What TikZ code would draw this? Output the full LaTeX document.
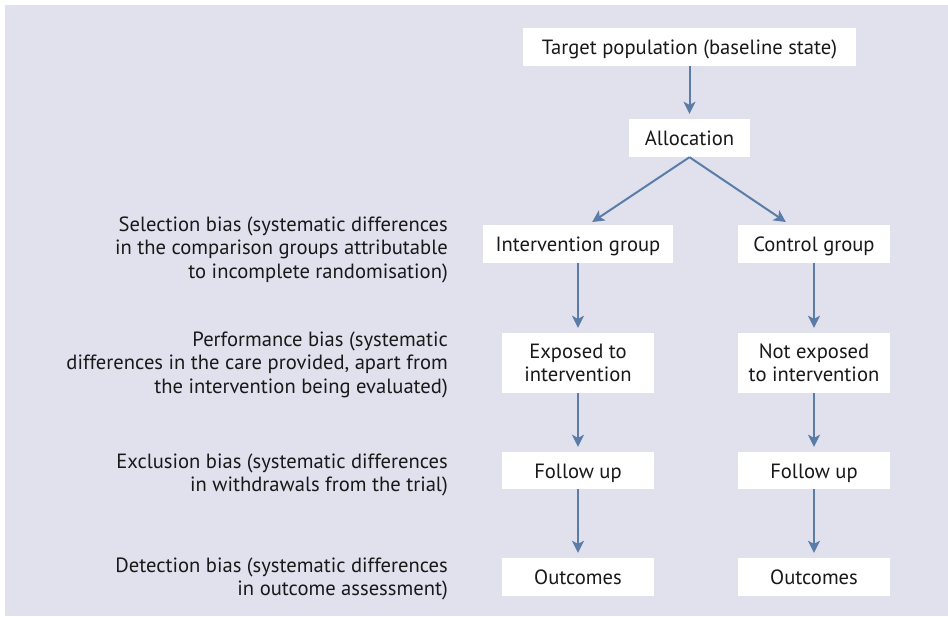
\documentclass[tikz,border=0pt]{standalone}
\usepackage{fontspec}
\setmainfont{PT Sans}
\usetikzlibrary{arrows.meta}
\definecolor{panel}{RGB}{225,225,238}
\definecolor{flow}{RGB}{90,124,166}
\definecolor{ink}{RGB}{25,25,25}

\begin{document}
\begin{tikzpicture}[x=1pt,y=-1pt,
  txt/.style={text=ink, font=\fontsize{20.6}{23.5}\selectfont},
  box/.style={txt, fill=white, inner sep=0pt, align=center, minimum width=152pt, minimum height=38pt},
  oneline/.style={text height=15pt, text depth=0pt},
  note/.style={txt, anchor=east, inner sep=0pt, align=right},
  link/.style={draw=flow, line width=2pt, -{Stealth[length=12pt,width=12pt,inset=3pt]}, shorten >=5pt}
]
\useasboundingbox (0,0) rectangle (948,616);
\fill[panel] (5,5) rectangle (948,616);

% flow boxes
\node[box, oneline, minimum width=333pt] (tp) at (689.5,47) {Target population (baseline state)};
\node[box, oneline, minimum width=121pt] (al) at (689.5,138) {Allocation};
\node[box, oneline, minimum width=190pt] (ig) at (578,244) {Intervention group};
\node[box, oneline] (cg) at (814,244) {Control group};
\node[box, minimum height=60pt] (ex) at (578,363) {Exposed to\\intervention};
\node[box, minimum height=60pt] (nx) at (814,363) {Not exposed\\to intervention};
\node[box, oneline, minimum height=37pt] (fl) at (578,470.5) {Follow up};
\node[box, oneline, minimum height=37pt] (fr) at (814,470.5) {Follow up};
\node[box, oneline] (ol) at (578,577) {Outcomes};
\node[box, oneline] (or) at (814,577) {Outcomes};

% bias descriptions
\node[note] (sb) at (448,249.5) {Selection bias (systematic differences\\in the comparison groups attributable\\to incomplete randomisation)};
\node[note] (pb) at (448,364.5) {Performance bias (systematic\\differences in the care provided, apart from\\the intervention being evaluated)};
\node[note] (eb) at (448,475) {Exclusion bias (systematic differences\\in withdrawals from the trial)};
\node[note] (db) at (448,579) {Detection bias (systematic differences\\in outcome assessment)};

% connectors
\draw[link] (tp.south) -- (al.north);
\draw[link] (al.south) -- ([xshift=10pt]ig.north);
\draw[link] (al.south) -- ([xshift=-24pt]cg.north);
\draw[link] (ig.south) -- (ex.north);
\draw[link] (cg.south) -- (nx.north);
\draw[link] (ex.south) -- (fl.north);
\draw[link] (nx.south) -- (fr.north);
\draw[link] (fl.south) -- (ol.north);
\draw[link] (fr.south) -- (or.north);
\end{tikzpicture}
\end{document}
